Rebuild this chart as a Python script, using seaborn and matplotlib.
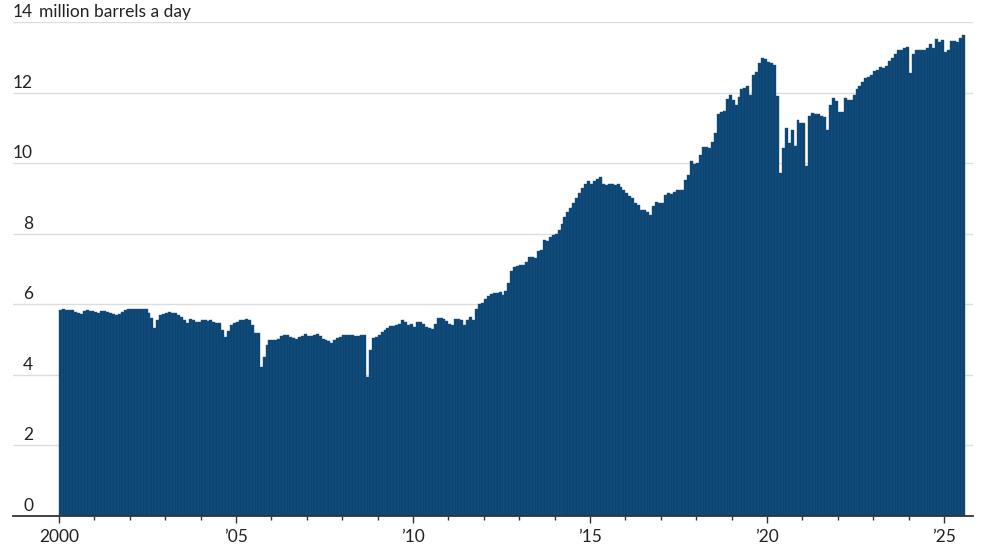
import matplotlib
matplotlib.use('Agg')
import matplotlib.pyplot as plt
import seaborn as sns
import pandas as pd
import numpy as np

# US crude oil production, million barrels a day, monthly from Jan 2000
prod_2000 = [5.83, 5.86, 5.85, 5.85, 5.84, 5.79, 5.74, 5.73, 5.80, 5.83, 5.82, 5.81]
prod_2001 = [5.79, 5.76, 5.81, 5.80, 5.77, 5.74, 5.72, 5.71, 5.73, 5.77, 5.85, 5.86]
prod_2002 = [5.86, 5.87, 5.86, 5.86, 5.87, 5.86, 5.76, 5.60, 5.34, 5.55, 5.69, 5.72]
prod_2003 = [5.75, 5.77, 5.76, 5.74, 5.70, 5.63, 5.55, 5.48, 5.57, 5.56, 5.50, 5.50]
prod_2004 = [5.55, 5.55, 5.54, 5.55, 5.50, 5.46, 5.46, 5.27, 5.07, 5.25, 5.42, 5.47]
prod_2005 = [5.50, 5.56, 5.55, 5.58, 5.55, 5.41, 5.19, 5.19, 4.22, 4.51, 4.84, 4.99]
prod_2006 = [5.00, 5.00, 5.02, 5.10, 5.14, 5.12, 5.08, 5.05, 5.03, 5.08, 5.10, 5.17]
prod_2007 = [5.10, 5.10, 5.12, 5.17, 5.10, 5.03, 4.99, 4.97, 4.91, 4.99, 5.04, 5.08]
prod_2008 = [5.12, 5.14, 5.14, 5.12, 5.10, 5.10, 5.13, 5.13, 3.95, 4.70, 5.05, 5.08]
prod_2009 = [5.13, 5.22, 5.27, 5.32, 5.38, 5.38, 5.40, 5.45, 5.55, 5.50, 5.42, 5.44]
prod_2010 = [5.36, 5.50, 5.50, 5.44, 5.36, 5.34, 5.29, 5.45, 5.60, 5.60, 5.58, 5.52]
prod_2011 = [5.45, 5.41, 5.58, 5.57, 5.55, 5.41, 5.55, 5.64, 5.55, 5.88, 6.00, 6.05]
prod_2012 = [6.14, 6.23, 6.30, 6.33, 6.33, 6.35, 6.26, 6.38, 6.59, 6.95, 7.05, 7.08]
prod_2013 = [7.11, 7.11, 7.20, 7.35, 7.35, 7.30, 7.52, 7.55, 7.82, 7.78, 7.91, 7.95]
prod_2014 = [8.00, 8.10, 8.27, 8.48, 8.62, 8.72, 8.86, 9.00, 9.15, 9.30, 9.40, 9.49]
prod_2015 = [9.42, 9.50, 9.56, 9.61, 9.42, 9.38, 9.42, 9.40, 9.38, 9.40, 9.33, 9.25]
prod_2016 = [9.16, 9.06, 9.00, 8.86, 8.80, 8.68, 8.67, 8.62, 8.53, 8.78, 8.90, 8.86]
prod_2017 = [8.87, 9.09, 9.16, 9.12, 9.19, 9.25, 9.25, 9.25, 9.52, 9.66, 10.06, 9.99]
prod_2018 = [10.00, 10.23, 10.46, 10.46, 10.42, 10.60, 10.86, 11.39, 11.45, 11.48, 11.83, 11.92]
prod_2019 = [11.80, 11.64, 11.88, 12.10, 12.12, 12.18, 11.92, 12.49, 12.59, 12.84, 12.99, 12.94]
prod_2020 = [12.87, 12.83, 12.78, 11.90, 9.71, 10.44, 11.01, 10.56, 10.95, 10.48, 11.22, 11.14]
prod_2021 = [11.14, 9.91, 11.33, 11.41, 11.39, 11.39, 11.35, 11.31, 10.95, 11.64, 11.86, 11.76]
prod_2022 = [11.45, 11.45, 11.86, 11.80, 11.80, 11.92, 12.10, 12.18, 12.30, 12.40, 12.45, 12.49]
prod_2023 = [12.60, 12.65, 12.73, 12.70, 12.75, 12.90, 12.97, 13.10, 13.20, 13.20, 13.25, 13.30]
prod_2024 = [12.55, 13.10, 13.20, 13.20, 13.20, 13.20, 13.25, 13.39, 13.25, 13.53, 13.44, 13.49]
prod_2025 = [13.15, 13.20, 13.45, 13.47, 13.43, 13.55, 13.63]

tick_years = [2000, 2005, 2010, 2015, 2020, 2025]
tick_labels = ['2000', '\u201905', '\u201910', '\u201915', '\u201920', '\u201925']
y_ticks = [0, 2, 4, 6, 8, 10, 12, 14]
unit_label = 'million barrels a day'

BAR = '#0b4572'
EDGE = '#1f5788'
GRID = '#dcdcdc'
AXIS = '#333333'
TEXT = '#222222'

values = (prod_2000 + prod_2001 + prod_2002 + prod_2003 + prod_2004 + prod_2005
          + prod_2006 + prod_2007 + prod_2008 + prod_2009 + prod_2010 + prod_2011
          + prod_2012 + prod_2013 + prod_2014 + prod_2015 + prod_2016 + prod_2017
          + prod_2018 + prod_2019 + prod_2020 + prod_2021 + prod_2022 + prod_2023
          + prod_2024 + prod_2025)
df = pd.DataFrame({'month': np.arange(len(values)), 'mbd': values})

sns.set_theme(style='white')
plt.rcParams['font.family'] = ['Lato', 'DejaVu Sans']

fig = plt.figure(figsize=(10, 5.45), dpi=100)
ax = fig.add_axes([0.013, 0.0532, 0.960, 0.9064])

sns.barplot(data=df, x='month', y='mbd', color=BAR, saturation=1, width=1.0,
            errorbar=None, edgecolor=EDGE, linewidth=0.3, ax=ax)

# x axis: one bar per month, year ticks at the left edge of January
px_per_month = 2.95
left = -0.5 - 46 / px_per_month
ax.set_xlim(left, left + 960 / px_per_month)
ax.set_ylim(0, 14)

major = [(y - 2000) * 12 - 0.5 for y in tick_years]
minor = [(y - 2000) * 12 - 0.5 for y in range(2001, 2026) if y not in tick_years]
ax.set_xticks(major)
ax.set_xticklabels(tick_labels)
ax.set_xticks(minor, minor=True)
ax.tick_params(axis='x', which='major', direction='out', length=5, width=1,
               color=AXIS, labelsize=12.5, labelcolor=TEXT, pad=4, bottom=True)
ax.tick_params(axis='x', which='minor', direction='out', length=3, width=1,
               color=AXIS, bottom=True)
ax.set_xlabel('')
ax.set_ylabel('')

# y axis: gridlines with labels sitting above them on the left
ax.set_yticks(y_ticks)
ax.tick_params(axis='y', left=False, labelleft=False)
ax.yaxis.grid(True, color=GRID, linewidth=1)
ax.set_axisbelow(True)
tr = ax.get_yaxis_transform()
for v in y_ticks:
    ax.text(20 / 960, v + 0.14, str(v), transform=tr, ha='right', va='baseline',
            fontsize=12.5, color=TEXT)
ax.text(26 / 960, 14 + 0.14, unit_label, transform=tr, ha='left', va='baseline',
        fontsize=12.5, color=TEXT)

for side in ['top', 'right', 'left']:
    ax.spines[side].set_visible(False)
ax.spines['bottom'].set_color(AXIS)
ax.spines['bottom'].set_linewidth(1.3)
ax.spines['bottom'].set_zorder(5)

fig.savefig('out.png', dpi=100)
plt.close()
